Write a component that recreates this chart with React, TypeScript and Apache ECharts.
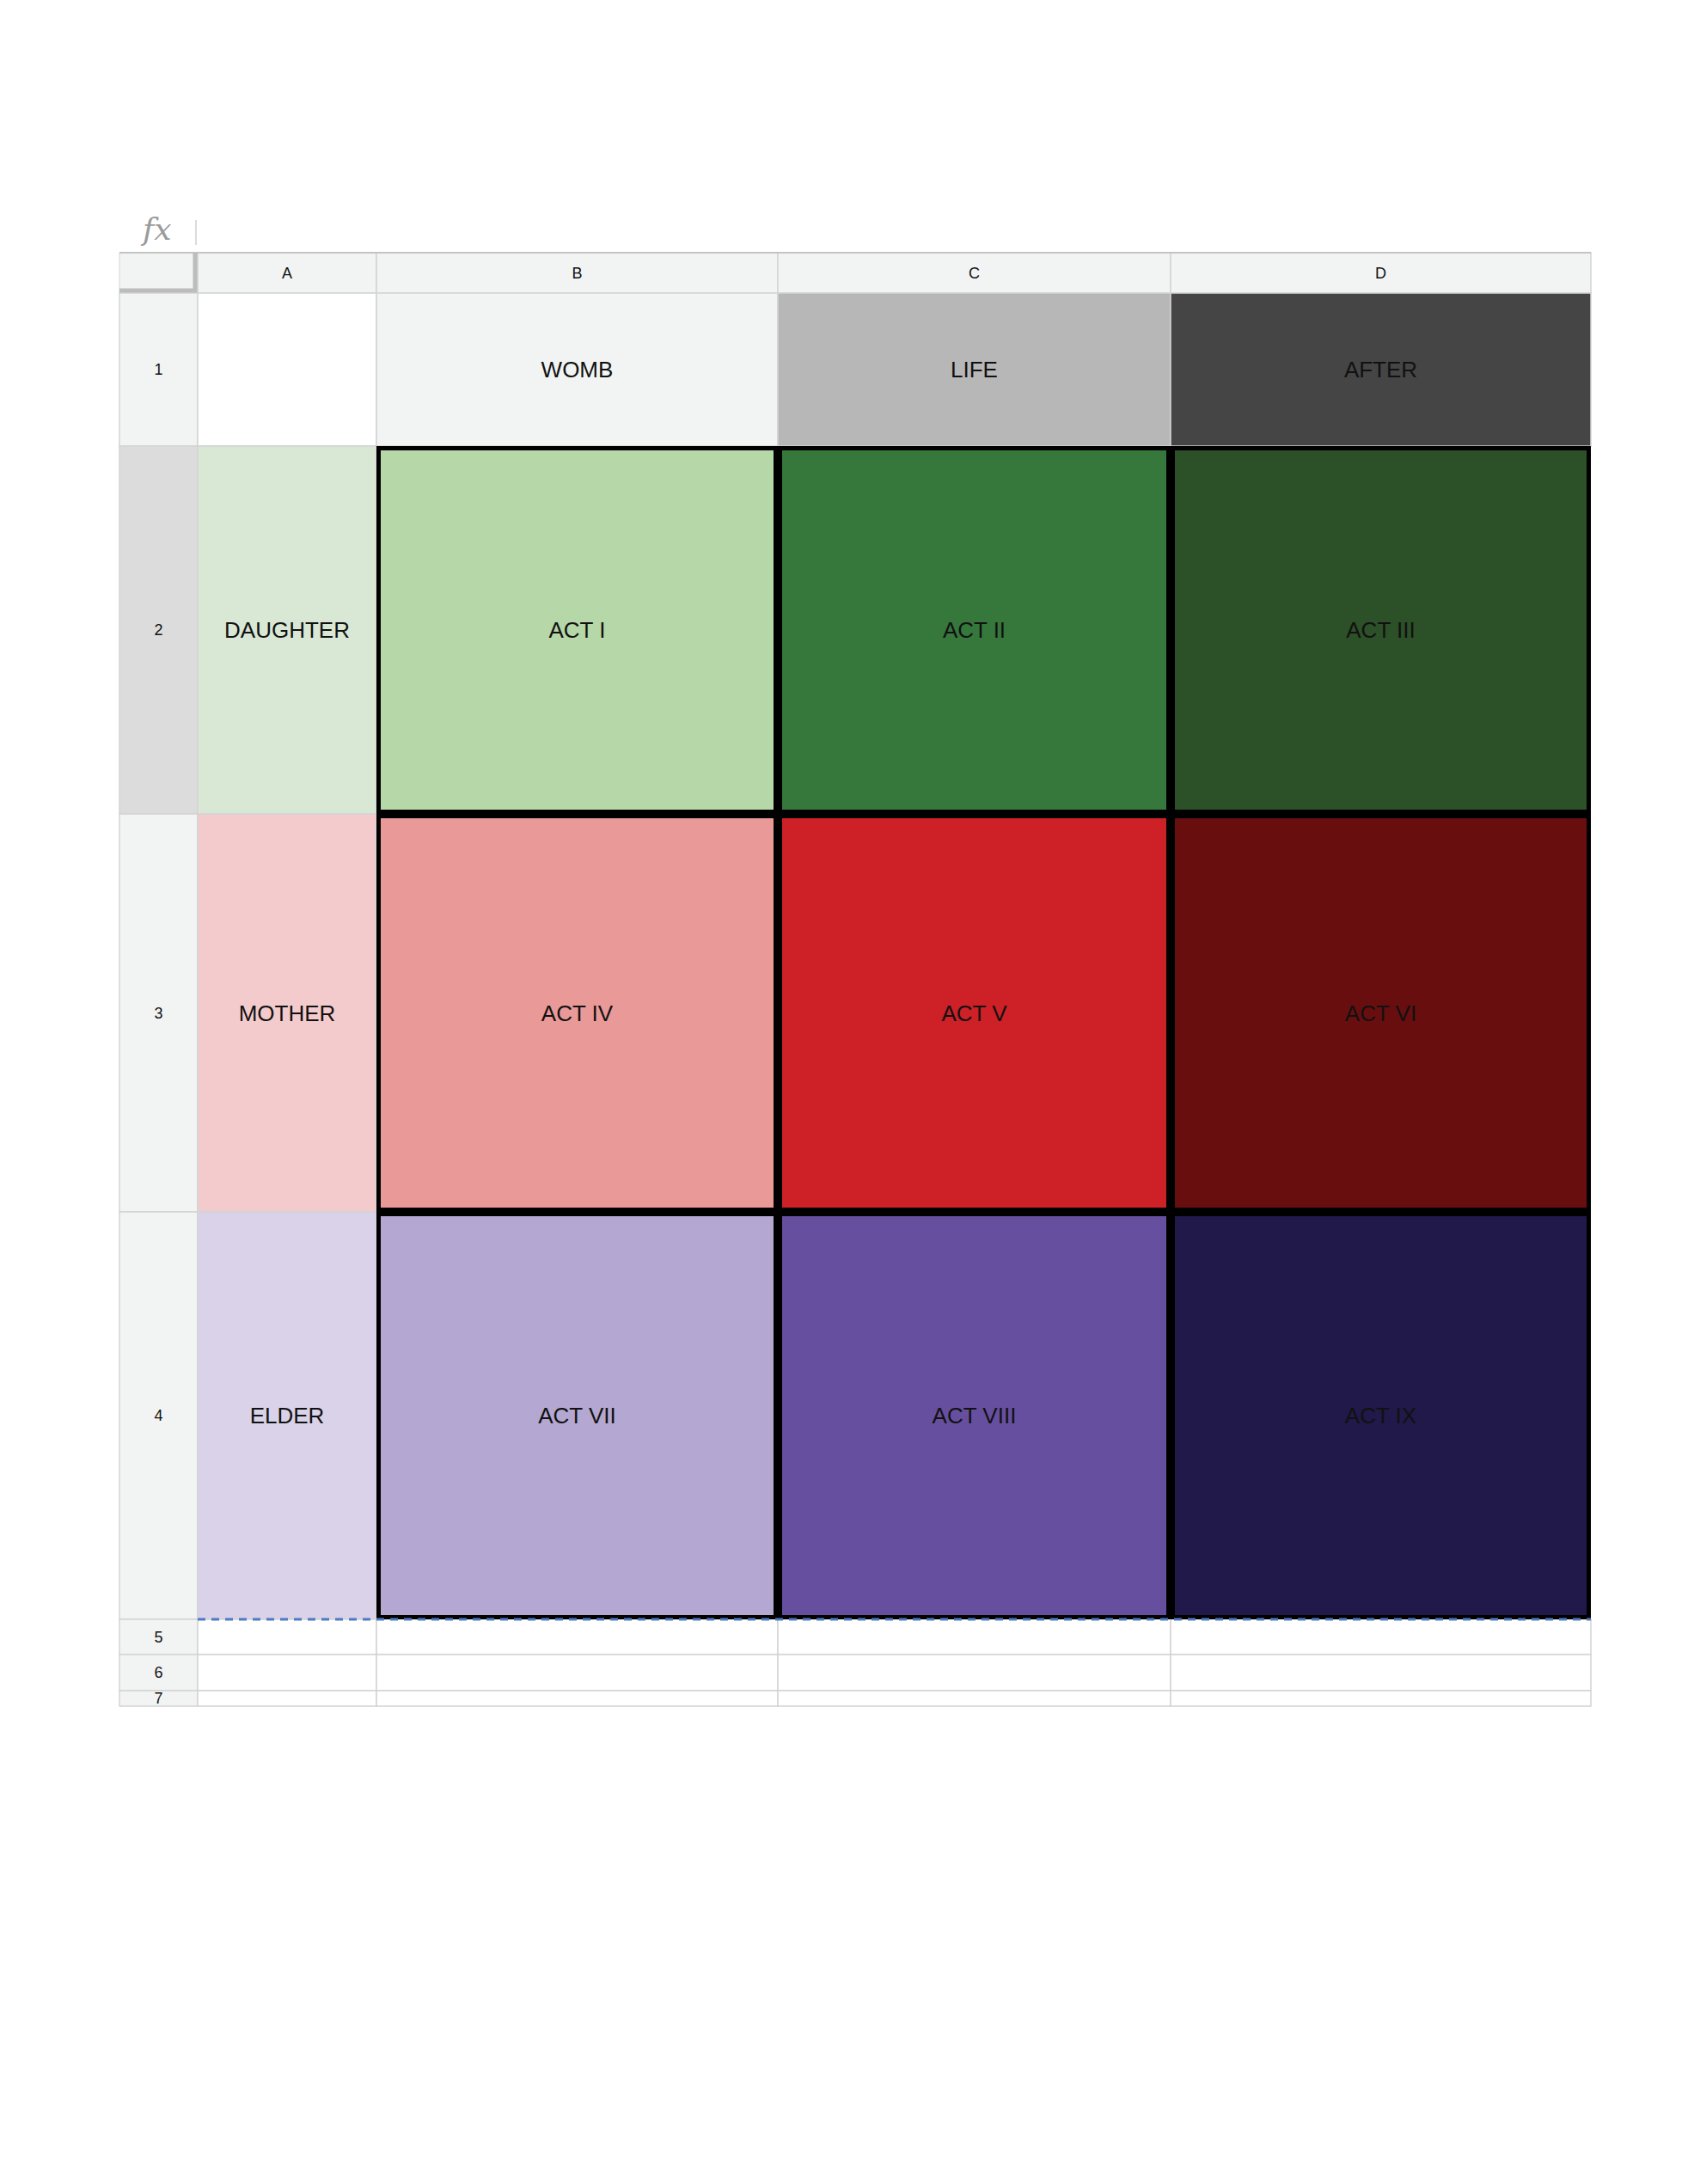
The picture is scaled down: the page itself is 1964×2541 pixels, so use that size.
import * as echarts from 'echarts';
import { useEffect, useRef } from 'react';

// sheet content
const colLetters = ['A', 'B', 'C', 'D'];
const rowNumbers = ['1', '2', '3', '4', '5', '6', '7'];
const phases = ['WOMB', 'LIFE', 'AFTER'];
const phaseColors = ['#f1f4f3', '#b7b7b7', '#454545'];
const roles = ['DAUGHTER', 'MOTHER', 'ELDER'];
const roleColors = ['#d9e8d5', '#f4cbcd', '#d9d2e8'];
const acts = [
    ['ACT I', 'ACT II', 'ACT III'],
    ['ACT IV', 'ACT V', 'ACT VI'],
    ['ACT VII', 'ACT VIII', 'ACT IX'],
];
const actColors = [
    ['#b6d7a7', '#36783c', '#2c5027'],
    ['#ea9999', '#cd2027', '#690e0f'],
    ['#b4a7d1', '#674fa0', '#20194a'],
];

// layout (sheet units = pixels)
const colWidths = [91, 208, 467, 457, 489];
const rowHeights = [47, 178, 428, 463, 474, 41, 42, 18];
const GRID_LEFT = 131;
const GRID_TOP = 286;

const cum = (a: number[]) => a.reduce((acc: number[], v) => [...acc, acc[acc.length - 1] + v], [0]);
const xs = cum(colWidths);
const ys = cum(rowHeights);
const totalW = xs[xs.length - 1];
const totalH = ys[ys.length - 1];

type Cell = [number, number, number, number, string, string, number, string, number];
// [x0, y0, x1, y1, fill, label, fontSize, stroke, strokeWidth]

const buildCells = () => {
    const cells: Cell[] = [];
    const grid = '#d3d3d3';
    // corner + column headers
    cells.push([xs[0], ys[0], xs[1], ys[1], '#f1f4f3', '', 17, grid, 1]);
    colLetters.forEach((c, i) => cells.push([xs[i + 1], ys[0], xs[i + 2], ys[1], '#f1f4f3', c, 18, grid, 1.5]));
    // row headers
    rowNumbers.forEach((r, i) => {
        const fill = i === 1 ? '#dcdcdc' : '#f1f4f3';
        cells.push([xs[0], ys[i + 1], xs[1], ys[i + 2], fill, r, 18, grid, 1.5]);
    });
    // row 1
    cells.push([xs[1], ys[1], xs[2], ys[2], '#ffffff', '', 26, grid, 1.5]);
    phases.forEach((p, i) => cells.push([xs[i + 2], ys[1], xs[i + 3], ys[2], phaseColors[i], p, 26, grid, 1.5]));
    // roles
    roles.forEach((r, i) => cells.push([xs[1], ys[i + 2], xs[2], ys[i + 3], roleColors[i], r, 26, grid, 1.5]));
    // empty rows
    for (let r = 5; r < 8; r++) {
        for (let c = 1; c < 5; c++) cells.push([xs[c], ys[r], xs[c + 1], ys[r + 1], '#ffffff', '', 26, grid, 1.5]);
    }
    // acts with thick borders
    acts.forEach((row, r) =>
        row.forEach((a, c) =>
            cells.push([xs[c + 2], ys[r + 2], xs[c + 3], ys[r + 3], actColors[r][c], a, 26, '#000000', 5])
        )
    );
    return cells;
};

const App = () => {
    const chartRef = useRef(null);

    useEffect(() => {
        const chart = echarts.init(chartRef.current, null, { renderer: 'svg' });
        const cells = buildCells();

        const option = {
            animation: false,
            grid: { left: GRID_LEFT, top: GRID_TOP, width: totalW, height: totalH },
            xAxis: { type: 'value', min: 0, max: totalW, show: false },
            yAxis: { type: 'value', min: 0, max: totalH, inverse: true, show: false },
            graphic: [
                {
                    type: 'text',
                    left: 158,
                    top: 240,
                    style: { text: 'fx', fontSize: 36, fontStyle: 'italic', fontFamily: 'DejaVu Serif', fill: '#9a9a9a' },
                },
                {
                    type: 'line',
                    shape: { x1: 220, y1: 248, x2: 220, y2: 277 },
                    style: { stroke: '#cfcfcf', lineWidth: 1.5 },
                },
                {
                    type: 'line',
                    z: 100,
                    shape: { x1: GRID_LEFT, y1: GRID_TOP, x2: GRID_LEFT + totalW, y2: GRID_TOP },
                    style: { stroke: '#c4c4c4', lineWidth: 2 },
                },
                {
                    type: 'polyline',
                    z: 100,
                    shape: {
                        points: [
                            [GRID_LEFT, GRID_TOP + ys[1] - 3],
                            [GRID_LEFT + xs[1] - 3, GRID_TOP + ys[1] - 3],
                            [GRID_LEFT + xs[1] - 3, GRID_TOP],
                        ],
                    },
                    style: { stroke: '#bcbcbc', lineWidth: 5, fill: 'none' },
                },
                {
                    type: 'line',
                    z: 100,
                    shape: {
                        x1: GRID_LEFT + xs[1],
                        y1: GRID_TOP + ys[5],
                        x2: GRID_LEFT + totalW,
                        y2: GRID_TOP + ys[5],
                    },
                    style: { stroke: '#4f7ac4', lineWidth: 3, lineDash: [9, 7] },
                },
            ],
            series: [
                {
                    type: 'custom',
                    data: cells,
                    clip: false,
                    renderItem: (_params: any, api: any) => {
                        const p0 = api.coord([api.value(0), api.value(1)]);
                        const p1 = api.coord([api.value(2), api.value(3)]);
                        const lw = api.value(8);
                        const inset = lw > 2 ? lw / 2 : 0;
                        return {
                            type: 'group',
                            z2: lw > 2 ? 10 : 0,
                            children: [
                                {
                                    type: 'rect',
                                    shape: {
                                        x: p0[0] + inset,
                                        y: p0[1] + inset,
                                        width: p1[0] - p0[0] - inset * 2,
                                        height: p1[1] - p0[1] - inset * 2,
                                    },
                                    style: { fill: api.value(4), stroke: api.value(7), lineWidth: lw },
                                },
                                {
                                    type: 'text',
                                    style: {
                                        text: api.value(5),
                                        x: (p0[0] + p1[0]) / 2,
                                        y: (p0[1] + p1[1]) / 2,
                                        align: 'center',
                                        verticalAlign: 'middle',
                                        fontSize: api.value(6),
                                        fontFamily: 'Liberation Sans',
                                        fill: '#111111',
                                    },
                                },
                            ],
                        };
                    },
                },
            ],
        };

        chart.setOption(option);
        return () => chart.dispose();
    }, []);

    return <div ref={chartRef} style={{ width: '1948px', height: '2520px' }} />;
};

export default App;
